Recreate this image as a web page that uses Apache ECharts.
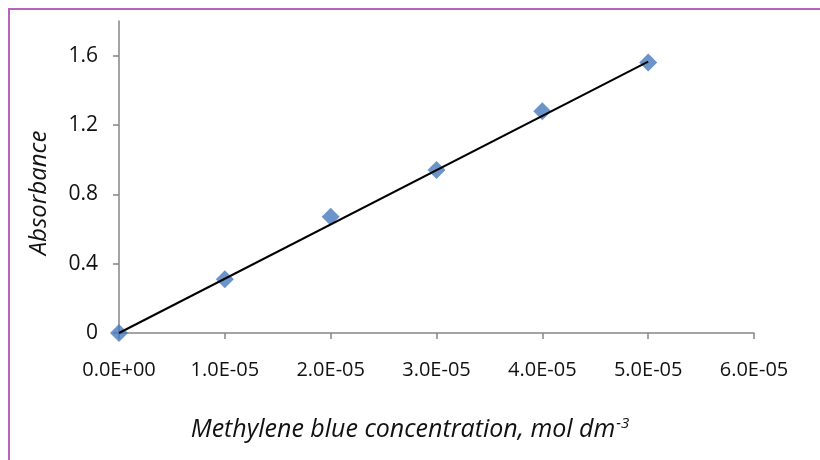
<!DOCTYPE html>
<html>
<head>
<meta charset="utf-8">
<script src="https://cdn.jsdelivr.net/npm/echarts@6/dist/echarts.min.js"></script>
<style>html,body{margin:0;padding:0;background:#fff;}#c{width:820px;height:460px;}</style>
</head>
<body>
<div id="c"></div>
<script>
var concentrations = [0, 1e-5, 2e-5, 3e-5, 4e-5, 5e-5];
var absorbance = [0, 0.31, 0.67, 0.94, 1.28, 1.56];
var trendX = [0, 5e-5];
var trendY = [0, 1.565];
var xTickValues = [0, 1e-5, 2e-5, 3e-5, 4e-5, 5e-5, 6e-5];
var xTickLabels = ['0.0E+00', '1.0E-05', '2.0E-05', '3.0E-05', '4.0E-05', '5.0E-05', '6.0E-05'];
var yTickValues = [0, 0.4, 0.8, 1.2, 1.6];
var yTickLabels = ['0', '0.4', '0.8', '1.2', '1.6'];

var FONT = 'Open Sans';
var chart = echarts.init(document.getElementById('c'), null, {renderer: 'canvas'});
var axisColor = '#868686';
chart.setOption({
  animation: false,
  backgroundColor: '#fff',
  graphic: [{
    type: 'polyline',
    shape: {points: [[9, 470], [9, 9], [830, 9]]},
    style: {stroke: '#b565c0', lineWidth: 2, fill: null}
  }],
  grid: {left: 119, right: 66, top: 21, bottom: 127, containLabel: false},
  xAxis: {
    type: 'value', min: 0, max: 6e-5, interval: 1e-5,
    name: '{a|Methylene blue concentration, mol dm}{s|-3}',
    nameLocation: 'middle', nameGap: 83,
    nameTextStyle: {
      padding: [0, 53, 0, 0],
      rich: {
        a: {fontFamily: FONT, fontStyle: 'italic', fontSize: 25, color: '#111'},
        s: {fontFamily: FONT, fontStyle: 'italic', fontSize: 15, color: '#111', verticalAlign: 'top', padding: [0, 0, 12, 1]}
      }
    },
    axisLine: {show: true, lineStyle: {color: axisColor, width: 1.5}},
    axisTick: {show: true, inside: false, length: 6, lineStyle: {color: axisColor, width: 1.5}},
    axisLabel: {
      margin: 27, fontFamily: FONT, fontSize: 20, color: '#111',
      formatter: function (v) {
        var i = xTickValues.findIndex(function (t) { return Math.abs(t - v) < 1e-9; });
        return i >= 0 ? xTickLabels[i] : '';
      }
    },
    splitLine: {show: false}
  },
  yAxis: {
    type: 'value', min: 0, max: 1.8,
    name: 'Absorbance', nameLocation: 'middle', nameGap: 68,
    nameTextStyle: {fontFamily: FONT, fontStyle: 'italic', fontSize: 24, color: '#111', padding: [0, 32, 0, 0]},
    axisLine: {show: true, lineStyle: {color: axisColor, width: 1.5}},
    axisTick: {show: true, length: 6, customValues: yTickValues, lineStyle: {color: axisColor, width: 1.5}},
    axisLabel: {
      margin: 21, fontFamily: FONT, fontSize: 21, color: '#111',
      customValues: yTickValues,
      formatter: function (v) {
        var i = yTickValues.findIndex(function (t) { return Math.abs(t - v) < 1e-9; });
        return i >= 0 ? yTickLabels[i] : '';
      }
    },
    splitLine: {show: false}
  },
  series: [{
    type: 'line',
    data: trendX.map(function (x, i) { return [x, trendY[i]]; }),
    showSymbol: false, symbol: 'none',
    lineStyle: {color: '#000', width: 2},
    z: 3
  }, {
    type: 'scatter',
    data: concentrations.map(function (x, i) { return [x, absorbance[i]]; }),
    symbol: 'diamond', symbolSize: 18,
    itemStyle: {color: '#4679bd'},
    z: 2
  }]
});
</script>
</body>
</html>
